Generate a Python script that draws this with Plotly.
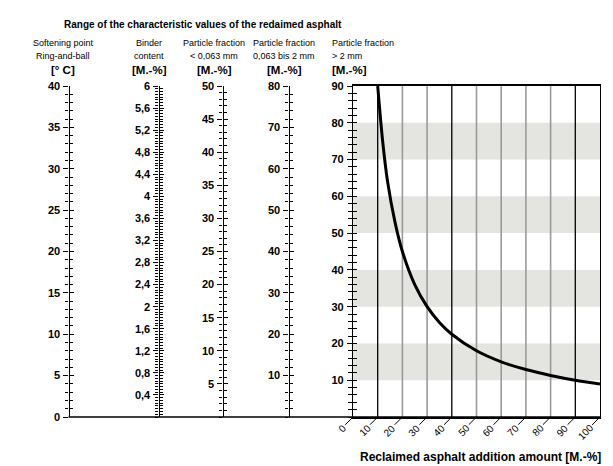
import plotly.graph_objects as go

# ---------------- data ----------------
chart_title = "Range of the characteristic values of the redaimed asphalt"
x_title = "Reclaimed asphalt addition amount [M.-%]"

addition = [10, 12, 14, 17, 20, 25, 30, 35, 40, 50, 60, 70, 80, 90, 100]
coarse_fraction = [90, 75, 64, 53, 45, 36, 30, 25.7, 22.5, 18, 15, 12.9, 11.3, 10, 9]

x_ticks = [0, 10, 20, 30, 40, 50, 60, 70, 80, 90, 100]
x_tick_labels = ["0", "10", "20", "30", "40", "50", "60", "70", "80", "90", "100"]

soft_ticks = [0, 5, 10, 15, 20, 25, 30, 35, 40]
soft_labels = ["0", "5", "10", "15", "20", "25", "30", "35", "40"]

binder_ticks = [0.4, 0.8, 1.2, 1.6, 2.0, 2.4, 2.8, 3.2, 3.6, 4.0, 4.4, 4.8, 5.2, 5.6, 6.0]
binder_labels = ["0,4", "0,8", "1,2", "1,6", "2", "2,4", "2,8", "3,2", "3,6", "4",
                 "4,4", "4,8", "5,2", "5,6", "6"]

fine_ticks = [5, 10, 15, 20, 25, 30, 35, 40, 45, 50]
fine_labels = ["5", "10", "15", "20", "25", "30", "35", "40", "45", "50"]

mid_ticks = [10, 20, 30, 40, 50, 60, 70, 80]
mid_labels = ["10", "20", "30", "40", "50", "60", "70", "80"]

coarse_ticks = [10, 20, 30, 40, 50, 60, 70, 80, 90]
coarse_labels = ["10", "20", "30", "40", "50", "60", "70", "80", "90"]

band_low = [10, 30, 50, 70]
band_high = [20, 40, 60, 80]
grid_dark = [10, 40, 90]
grid_light = [20, 30, 50, 60, 70, 80]

header_line1 = ["Softening point", "Binder", "Particle fraction", "Particle fraction", "Particle fraction"]
header_line2 = ["Ring-and-ball", "content", "< 0,063 mm", "0,063 bis 2 mm", "> 2 mm"]
header_line3 = ["[° C]", "[M.-%]", "[M.-%]", "[M.-%]", "[M.-%]"]

# ---------------- layout helpers ----------------
W, H = 613, 466
ML, MR, MT, MB = 0, 13, 86, 49
PW = W - ML - MR
PH = H - MT - MB


def px(xp):
    return (xp - ML) / PW


def py(yp):
    return (H - MB - yp) / PH


FONT = "Liberation Sans"

fig = go.Figure()

# main curve
fig.add_trace(go.Scatter(x=addition, y=coarse_fraction, mode="lines",
                         line=dict(color="black", width=3, shape="spline", smoothing=0.8),
                         showlegend=False, hoverinfo="skip"))

tickfont = dict(family=FONT, size=11, color="black", weight="bold")

# scale definitions: axis keys, range max, tickvals, ticktext, minor dtick, x pixel position
scales = [
    ("y2", "y3", 40, soft_ticks, soft_labels, 1, 68.5),
    ("y4", "y5", 6, binder_ticks, binder_labels, 0.05, 158.5),
    ("y6", "y7", 50, fine_ticks, fine_labels, 1, 222.5),
    ("y8", "y9", 80, mid_ticks, mid_labels, 2, 288.5),
]

layout_axes = {}
for out_id, in_id, rmax, tv, tt, mdt, xpos in scales:
    for ax_id, side_ticks, labels in ((out_id, "outside", True), (in_id, "inside", False)):
        fig.add_trace(go.Scatter(x=[None], y=[None], yaxis=ax_id, showlegend=False, hoverinfo="skip"))
        layout_axes["yaxis" + ax_id[1:]] = dict(
            overlaying="y", anchor="free", position=px(xpos), side="left",
            range=[0, rmax], tickmode="array", tickvals=tv, ticktext=tt,
            showticklabels=labels, ticks=side_ticks, ticklen=5 if labels else 4,
            tickwidth=1, tickcolor="black", showgrid=False, zeroline=False,
            showline=labels, linecolor="black", linewidth=1.2,
            minor=dict(ticks=side_ticks, dtick=mdt, tick0=0, ticklen=3.5,
                       tickwidth=1, tickcolor="black", showgrid=False),
            tickfont=tickfont, ticklabelstandoff=1,
        )

# inside ticks for main axis
fig.add_trace(go.Scatter(x=[None], y=[None], yaxis="y10", showlegend=False, hoverinfo="skip"))
layout_axes["yaxis10"] = dict(
    overlaying="y", anchor="x", side="left", range=[0, 90],
    tickmode="array", tickvals=coarse_ticks, showticklabels=False,
    ticks="inside", ticklen=4, tickwidth=1, tickcolor="black",
    showgrid=False, zeroline=False, showline=False,
    minor=dict(ticks="inside", dtick=2, tick0=0, ticklen=3.5, tickwidth=1,
               tickcolor="black", showgrid=False),
)

shapes = []
for lo, hi in zip(band_low, band_high):
    shapes.append(dict(type="rect", xref="x", yref="y", x0=0, x1=100, y0=lo, y1=hi,
                       fillcolor="#e4e5e1", line=dict(width=0), layer="below"))
for g in grid_light:
    shapes.append(dict(type="line", xref="x", yref="y", x0=g, x1=g, y0=0, y1=90,
                       line=dict(color="#9a9a9a", width=1.6), layer="below"))
for g in grid_dark:
    shapes.append(dict(type="line", xref="x", yref="y", x0=g, x1=g, y0=0, y1=90,
                       line=dict(color="black", width=1.3), layer="below"))
# baseline across all scales
shapes.append(dict(type="line", xref="paper", yref="paper", x0=px(68.5), x1=1, y0=0, y1=0,
                   line=dict(color="black", width=1.5)))

annotations = []
annotations.append(dict(text=chart_title, xref="paper", yref="paper", x=px(203), y=py(24),
                        showarrow=False, xanchor="center", yanchor="middle",
                        font=dict(family=FONT, size=10, color="black", weight="bold")))
header_x = [63, 149, 214, 284, 330]
for i in range(5):
    anchor = "left" if i == 4 else "center"
    for txt, yy, bold, sz in ((header_line1[i], 43, False, 9),
                              (header_line2[i], 56, False, 9),
                              (header_line3[i], 70, True, 11.5)):
        annotations.append(dict(text=txt, xref="paper", yref="paper", x=px(header_x[i]), y=py(yy),
                                showarrow=False, xanchor=anchor, yanchor="middle",
                                font=dict(family=FONT, size=sz, color="black",
                                          weight="bold" if bold else "normal")))
for v, lab in zip(x_ticks, x_tick_labels):
    off = 9 + 2 * len(lab)
    annotations.append(dict(text=lab, xref="x", yref="y", x=v, y=0, ax=-off, ay=off,
                            textangle=-45, showarrow=True, arrowhead=0, arrowwidth=1,
                            arrowcolor="black", standoff=0, startstandoff=0,
                            font=dict(family=FONT, size=10, color="black")))
annotations.append(dict(text=x_title, xref="paper", yref="paper", x=px(603), y=py(457),
                        showarrow=False, xanchor="right", yanchor="middle",
                        font=dict(family=FONT, size=12, color="black", weight="bold")))

fig.update_layout(
    width=W, height=H, margin=dict(l=ML, r=MR, t=MT, b=MB),
    paper_bgcolor="white", plot_bgcolor="white",
    xaxis=dict(domain=[px(353), 1], range=[0, 100], showgrid=False, zeroline=False,
               showticklabels=False, ticks="", showline=True, mirror=True,
               linecolor="black", linewidth=1.5),
    yaxis=dict(range=[0, 90], tickmode="array", tickvals=coarse_ticks, ticktext=coarse_labels,
               ticks="outside", ticklen=5, tickwidth=1, tickcolor="black",
               showgrid=False, zeroline=False, showline=True, mirror=True,
               linecolor="black", linewidth=1.3, tickfont=tickfont, ticklabelstandoff=1,
               minor=dict(ticks="outside", dtick=2, tick0=0, ticklen=3.5, tickwidth=1,
                          tickcolor="black", showgrid=False)),
    shapes=shapes, annotations=annotations, showlegend=False,
    **layout_axes,
)

fig.write_html("out.html")
